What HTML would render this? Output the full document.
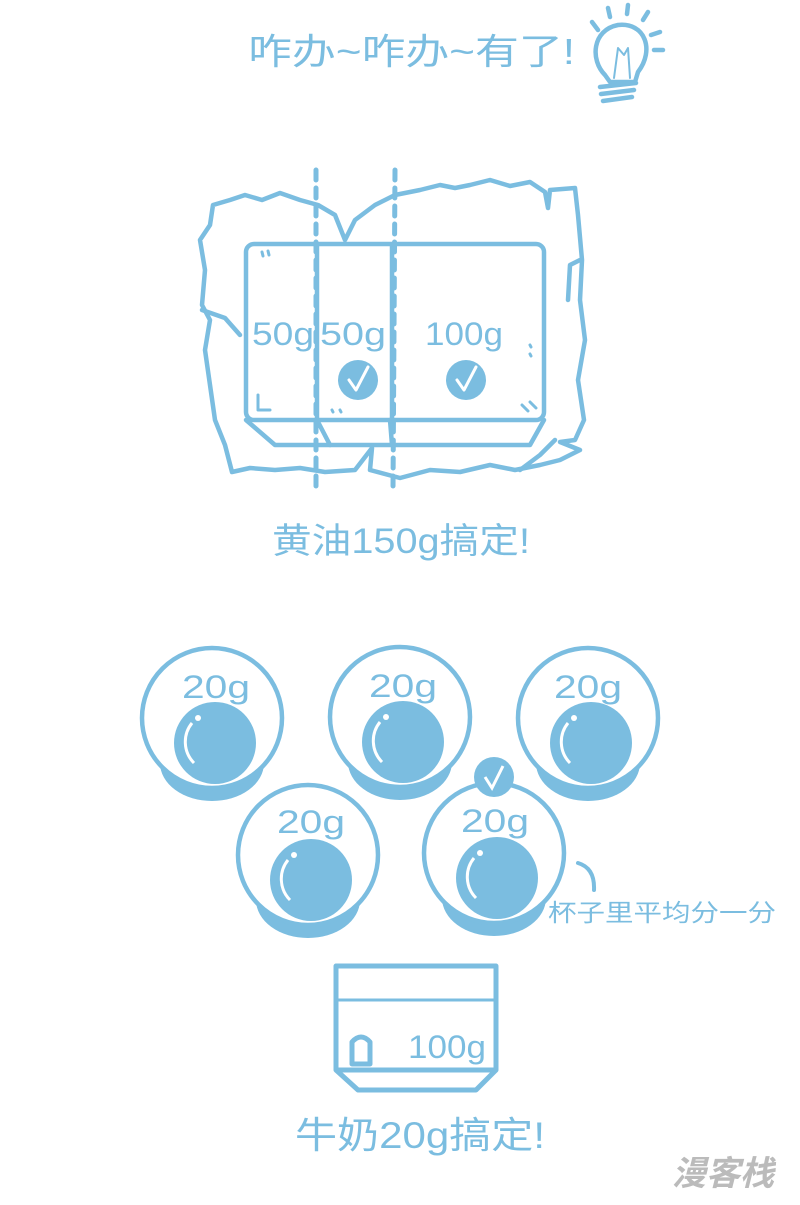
<!DOCTYPE html>
<html><head><meta charset="utf-8"><style>
body{margin:0;background:#fff;}
svg{display:block}
text{font-family:"Liberation Sans","Noto Sans CJK SC",sans-serif;fill:#7bbde0}
</style></head><body>
<svg width="800" height="1205" viewBox="0 0 800 1205" xmlns="http://www.w3.org/2000/svg">
<g stroke="#7bbde0" fill="none" stroke-width="4.5" stroke-linecap="round" stroke-linejoin="round">
<text x="248" y="64" font-size="36" stroke="none" textLength="327" lengthAdjust="spacingAndGlyphs">咋办~咋办~有了!</text>
<path d="M605 75 C590 60 592 30 618 25 C645 22 655 50 638 72 L635 82 L610 82 Z"/>
<path d="M600 87 L636 83 M601 94 L634 90 M603 101 L632 97"/>
<path d="M614 78 L618 48 L624 55 L628 48 L630 78" stroke-width="2"/>
<path d="M592 22 L598 30 M608 8 L610 17 M628 5 L627 14 M648 12 L643 20 M660 32 L651 35 M663 50 L654 50"/>
<path d="M213 205 L230 200 L245 195 L262 200 L280 193 L300 200 L318 205 L335 215 L345 240 L355 220 L375 205 L395 195 L420 190 L440 185 L455 188 L470 185 L490 180 L510 186 L530 182 L545 192 L548 208 L550 190 L575 188 L578 215 L582 260 L580 300 L585 340 L578 380 L584 420 L575 440 L560 442 L580 450 L560 460 L540 465 L515 470 L490 465 L460 472 L430 470 L400 478 L370 470 L372 448 L355 470 L325 472 L300 468 L275 470 L250 468 L232 472 L225 445 L215 420 L210 385 L205 350 L210 320 L202 305 L205 270 L200 240 L210 225 Z"/>
<path d="M202 310 L225 318 L240 335"/>
<path d="M580 260 L570 265 L568 300"/>
<path d="M520 470 L540 455 L555 440"/>
<rect x="246" y="244" width="298" height="176" rx="8" fill="#fff"/>
<path d="M317 246 L317 418 M392 246 L392 418"/>
<path d="M246 420 L275 445 L530 445 L544 420"/>
<path d="M317 420 L330 445"/>
<path d="M390 420 L392 445"/>
<path d="M258 395 L258 410 L270 410 M262 252 L263 256 M268 251 L269 255 M332 410 L333 412 M340 410 L341 412 M530 345 L531 347 M530 354 L531 356 M522 405 L528 411 M530 402 L536 408" stroke-width="3"/>
<g stroke-dasharray="10 8" stroke-width="5"><path d="M316 170 L316 490 M395 170 L393 490"/></g>
<text x="252" y="345" font-size="32" stroke="none" textLength="62" lengthAdjust="spacingAndGlyphs">50g</text>
<text x="320" y="345" font-size="32" stroke="none" textLength="66" lengthAdjust="spacingAndGlyphs">50g</text>
<text x="425" y="345" font-size="32" stroke="none" textLength="78" lengthAdjust="spacingAndGlyphs">100g</text>
<circle cx="358" cy="380" r="20" fill="#7bbde0" stroke="none"/>
<circle cx="466" cy="380" r="20" fill="#7bbde0" stroke="none"/>
<path d="M349 380 L356 390 L368 367 M457 380 L464 390 L476 367" stroke="#fff" stroke-width="3"/>
<text x="272" y="553" font-size="35" stroke="none" textLength="258" lengthAdjust="spacingAndGlyphs">黄油150g搞定!</text>
</g>
<g fill="#7bbde0">
<g transform="translate(212,718)"><ellipse cx="0" cy="45" rx="52" ry="38"/><circle r="70" fill="#fff" stroke="#7bbde0" stroke-width="4.5"/><circle cx="3" cy="25" r="41"/><path d="M-20 5 A30 30 0 0 0 -18 45" stroke="#fff" stroke-width="3" fill="none"/><circle cx="-14" cy="0" r="3" fill="#fff"/></g>
<g transform="translate(400,717)"><ellipse cx="0" cy="45" rx="52" ry="38"/><circle r="70" fill="#fff" stroke="#7bbde0" stroke-width="4.5"/><circle cx="3" cy="25" r="41"/><path d="M-20 5 A30 30 0 0 0 -18 45" stroke="#fff" stroke-width="3" fill="none"/><circle cx="-14" cy="0" r="3" fill="#fff"/></g>
<g transform="translate(588,718)"><ellipse cx="0" cy="45" rx="52" ry="38"/><circle r="70" fill="#fff" stroke="#7bbde0" stroke-width="4.5"/><circle cx="3" cy="25" r="41"/><path d="M-20 5 A30 30 0 0 0 -18 45" stroke="#fff" stroke-width="3" fill="none"/><circle cx="-14" cy="0" r="3" fill="#fff"/></g>
<g transform="translate(308,855)"><ellipse cx="0" cy="45" rx="52" ry="38"/><circle r="70" fill="#fff" stroke="#7bbde0" stroke-width="4.5"/><circle cx="3" cy="25" r="41"/><path d="M-20 5 A30 30 0 0 0 -18 45" stroke="#fff" stroke-width="3" fill="none"/><circle cx="-14" cy="0" r="3" fill="#fff"/></g>
<g transform="translate(494,853)"><ellipse cx="0" cy="45" rx="52" ry="38"/><circle r="70" fill="#fff" stroke="#7bbde0" stroke-width="4.5"/><circle cx="3" cy="25" r="41"/><path d="M-20 5 A30 30 0 0 0 -18 45" stroke="#fff" stroke-width="3" fill="none"/><circle cx="-14" cy="0" r="3" fill="#fff"/></g>
<circle cx="494" cy="777" r="20"/>
</g>
<path d="M485 777 L492 788 L503 766" stroke="#fff" stroke-width="3" fill="none"/>
<text x="182" y="698" font-size="32" textLength="68" lengthAdjust="spacingAndGlyphs">20g</text>
<text x="369" y="697" font-size="32" textLength="68" lengthAdjust="spacingAndGlyphs">20g</text>
<text x="554" y="698" font-size="32" textLength="68" lengthAdjust="spacingAndGlyphs">20g</text>
<text x="277" y="833" font-size="32" textLength="68" lengthAdjust="spacingAndGlyphs">20g</text>
<text x="461" y="832" font-size="32" textLength="68" lengthAdjust="spacingAndGlyphs">20g</text>
<path d="M578 863 Q595 868 594 890" stroke="#7bbde0" stroke-width="4" fill="none" stroke-linecap="round"/>
<text x="548" y="921" font-size="24" textLength="228" lengthAdjust="spacingAndGlyphs">杯子里平均分一分</text>
<g stroke="#7bbde0" fill="none" stroke-width="5" stroke-linejoin="round">
<rect x="336" y="966" width="160" height="104"/>
<path d="M338 1000 L494 1000" stroke-width="3"/>
<path d="M336 1070 L358 1090 L476 1090 L496 1070"/>
<path d="M352 1064 L352 1042 Q361 1032 370 1042 L370 1064 Z"/>
</g>
<text x="408" y="1058" font-size="32" textLength="78" lengthAdjust="spacingAndGlyphs">100g</text>
<text x="295" y="1148" font-size="37" textLength="250" lengthAdjust="spacingAndGlyphs">牛奶20g搞定!</text>
<text x="672" y="1185" font-size="34" font-weight="bold" style="fill:#bbb" font-style="italic">漫客栈</text>
</svg>
</body></html>
